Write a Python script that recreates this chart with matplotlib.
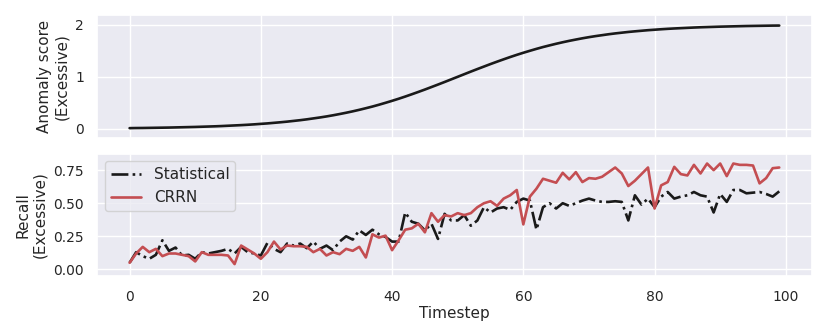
import matplotlib
matplotlib.use("Agg")
import matplotlib.pyplot as plt
import seaborn as sns
import numpy as np

timesteps = list(range(100))

anomaly_score = [
    0.013, 0.015, 0.016, 0.018, 0.020, 0.022, 0.024, 0.027, 0.030, 0.033,
    0.036, 0.040, 0.044, 0.048, 0.053, 0.059, 0.065, 0.071, 0.078, 0.086,
    0.095, 0.104, 0.115, 0.126, 0.138, 0.152, 0.166, 0.182, 0.200, 0.218,
    0.238, 0.260, 0.284, 0.309, 0.336, 0.365, 0.396, 0.428, 0.463, 0.500,
    0.538, 0.578, 0.620, 0.664, 0.709, 0.755, 0.803, 0.851, 0.900, 0.950,
    1.000, 1.050, 1.100, 1.149, 1.197, 1.245, 1.291, 1.336, 1.380, 1.422,
    1.462, 1.500, 1.537, 1.572, 1.604, 1.635, 1.664, 1.691, 1.716, 1.740,
    1.762, 1.782, 1.800, 1.818, 1.834, 1.848, 1.862, 1.874, 1.885, 1.896,
    1.905, 1.914, 1.922, 1.929, 1.935, 1.941, 1.947, 1.952, 1.956, 1.960,
    1.964, 1.967, 1.970, 1.973, 1.976, 1.978, 1.980, 1.982, 1.984, 1.985,
]

recall_statistical = [
    0.05, 0.13, 0.10, 0.08, 0.11, 0.22, 0.14, 0.165, 0.105, 0.11,
    0.08, 0.13, 0.12, 0.13, 0.14, 0.155, 0.12, 0.17, 0.13, 0.12,
    0.105, 0.20, 0.155, 0.13, 0.195, 0.18, 0.195, 0.16, 0.21, 0.155,
    0.18, 0.145, 0.21, 0.25, 0.225, 0.295, 0.26, 0.30, 0.265, 0.245,
    0.21, 0.21, 0.43, 0.36, 0.345, 0.295, 0.345, 0.23, 0.42, 0.37,
    0.37, 0.41, 0.33, 0.37, 0.47, 0.43, 0.46, 0.47, 0.45, 0.51,
    0.535, 0.52, 0.30, 0.47, 0.50, 0.46, 0.50, 0.48, 0.50, 0.52,
    0.535, 0.52, 0.51, 0.51, 0.515, 0.51, 0.37, 0.56, 0.49, 0.535,
    0.47, 0.55, 0.585, 0.535, 0.55, 0.56, 0.585, 0.56, 0.55, 0.43,
    0.57, 0.51, 0.60, 0.60, 0.575, 0.58, 0.585, 0.57, 0.55, 0.59,
]

recall_crrn = [
    0.05, 0.12, 0.17, 0.13, 0.155, 0.10, 0.12, 0.12, 0.11, 0.10,
    0.06, 0.13, 0.11, 0.11, 0.11, 0.105, 0.04, 0.18, 0.15, 0.12,
    0.08, 0.13, 0.21, 0.15, 0.18, 0.175, 0.175, 0.17, 0.13, 0.155,
    0.105, 0.13, 0.115, 0.155, 0.14, 0.17, 0.09, 0.265, 0.24, 0.255,
    0.145, 0.22, 0.30, 0.31, 0.345, 0.28, 0.425, 0.36, 0.41, 0.40,
    0.425, 0.41, 0.425, 0.47, 0.50, 0.515, 0.48, 0.535, 0.56, 0.60,
    0.34, 0.55, 0.61, 0.685, 0.67, 0.655, 0.73, 0.68, 0.735, 0.66,
    0.69, 0.685, 0.70, 0.735, 0.77, 0.725, 0.63, 0.67, 0.72, 0.77,
    0.46, 0.635, 0.66, 0.775, 0.72, 0.71, 0.79, 0.725, 0.80, 0.75,
    0.80, 0.705, 0.80, 0.79, 0.79, 0.785, 0.65, 0.69, 0.765, 0.77,
]

xticks = [0, 20, 40, 60, 80, 100]
top_yticks = [0, 1, 2]
bottom_yticks = [0.00, 0.25, 0.50, 0.75]

sns.set_theme(style="darkgrid")
plt.rcParams['font.family'] = ['DejaVu Sans']

fig, (ax1, ax2) = plt.subplots(2, 1, figsize=(8.3, 3.31), dpi=100, sharex=True)
fig.subplots_adjust(left=0.117, right=0.978, top=0.955, bottom=0.165, hspace=0.13)

ax1.plot(timesteps, anomaly_score, color="#1a1a1a", lw=1.9)
ax1.set_yticks(top_yticks)
ax1.set_ylim(-0.17, 2.19)
ax1.set_ylabel("Anomaly score\n(Excessive)", fontsize=11)
ax1.tick_params(labelsize=10)

ax2.plot(timesteps, recall_statistical, color="#1a1a1a", ls="-.", lw=1.9, label="Statistical")
ax2.plot(timesteps, recall_crrn, color="#c44e52", lw=1.9, label="CRRN")
ax2.set_yticks(bottom_yticks)
ax2.set_ylim(-0.053, 0.875)
ax2.set_xticks(xticks)
ax2.set_xlabel("Timestep", fontsize=11, labelpad=2)
ax2.set_ylabel("Recall\n(Excessive)", fontsize=11)
ax2.tick_params(labelsize=10)
ax2.legend(loc="upper left", fontsize=11)

fig.savefig("out.png", dpi=100)
